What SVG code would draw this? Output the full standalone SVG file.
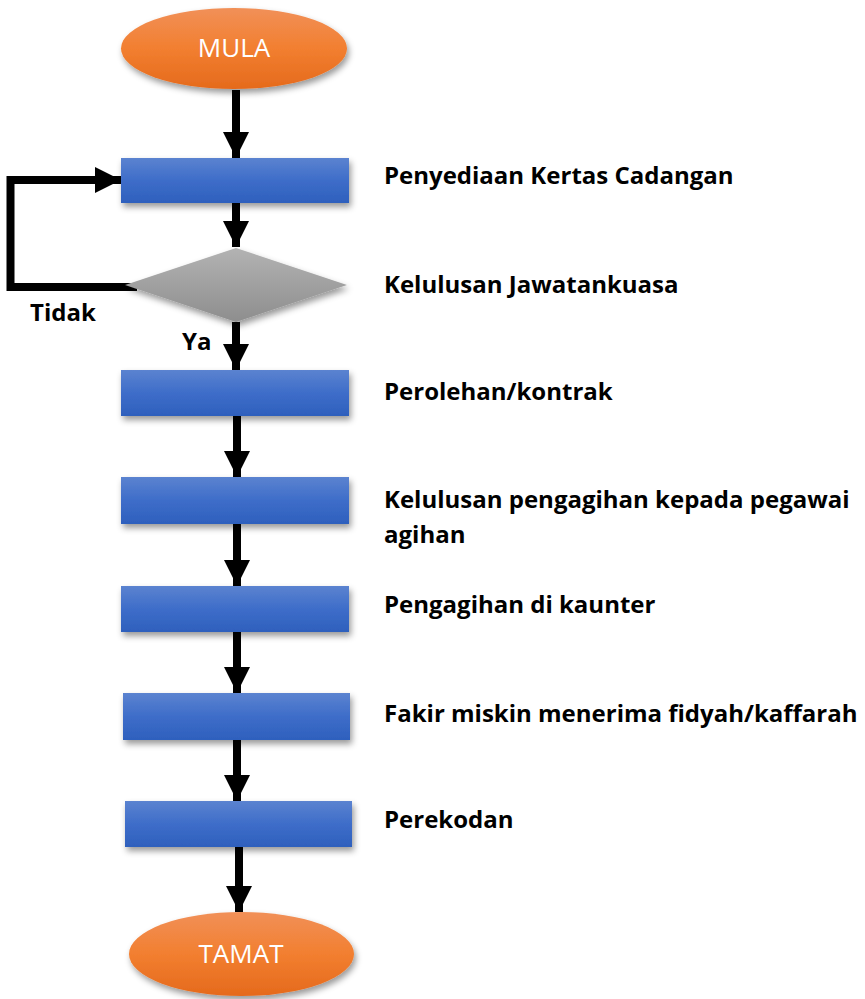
<svg xmlns="http://www.w3.org/2000/svg" width="865" height="999" viewBox="0 0 865 999">
  <defs>
    <linearGradient id="gBlue" x1="0" y1="0" x2="0" y2="1">
      <stop offset="0" stop-color="#5B83D0"/>
      <stop offset="0.5" stop-color="#3E6DC9"/>
      <stop offset="1" stop-color="#2E60BD"/>
    </linearGradient>
    <linearGradient id="gOrange" x1="0" y1="0" x2="0" y2="1">
      <stop offset="0" stop-color="#F19058"/>
      <stop offset="0.5" stop-color="#F27F30"/>
      <stop offset="1" stop-color="#E56A1C"/>
    </linearGradient>
    <linearGradient id="gGrey" x1="0" y1="0" x2="0" y2="1">
      <stop offset="0" stop-color="#B3B3B3"/>
      <stop offset="1" stop-color="#8E8E8E"/>
    </linearGradient>
    <filter id="shadow" x="-20%" y="-30%" width="140%" height="170%">
      <feDropShadow dx="2" dy="4" stdDeviation="3" flood-color="#000" flood-opacity="0.4"/>
    </filter>
    <marker id="arrow" markerUnits="userSpaceOnUse" markerWidth="26" markerHeight="26" viewBox="0 0 24 24" refX="24" refY="12" orient="auto">
      <path d="M0,0 L24,12 L0,24 Z" fill="#000"/>
    </marker>
  </defs>
  <style>
    .proc { fill: url(#gBlue); filter: url(#shadow); }
    .term { fill: url(#gOrange); filter: url(#shadow); }
    .dec { fill: url(#gGrey); filter: url(#shadow); }
    .conn { stroke: #000; stroke-width: 8; fill: none; marker-end: url(#arrow); }
    .tlabel { font-family: "Open Sans", "Liberation Sans", sans-serif; font-size: 26px; fill: #FFFFFF; text-anchor: middle; }
    .label { font-family: "Open Sans", "Liberation Sans", sans-serif; font-size: 24px; font-weight: bold; fill: #000; }
  </style>

  <g id="connectors">
    <line class="conn" x1="236" y1="90" x2="236" y2="158"/>
    <line class="conn" x1="236" y1="203" x2="236" y2="247"/>
    <polyline class="conn" points="137,287 10.5,287 10.5,180 121,180"/>
    <line class="conn" x1="236" y1="322" x2="236" y2="370"/>
    <line class="conn" x1="237" y1="416" x2="237" y2="477"/>
    <line class="conn" x1="237" y1="524" x2="237" y2="586"/>
    <line class="conn" x1="237" y1="632" x2="237" y2="693"/>
    <line class="conn" x1="237" y1="740" x2="237" y2="801"/>
    <line class="conn" x1="239" y1="847" x2="239" y2="912"/>
  </g>

  <g id="mula">
    <ellipse class="term" cx="234" cy="48.5" rx="113" ry="40.5"/>
    <text class="tlabel" x="234" y="57">MULA</text>
  </g>

  <g id="penyediaan">
    <rect class="proc" x="121" y="158" width="228" height="45"/>
    <text class="label" x="384" y="184">Penyediaan Kertas Cadangan</text>
  </g>

  <g id="kelulusan-jawatankuasa">
    <polygon class="dec" points="236,248 347,285 236,322 125,285"/>
    <text class="label" x="384" y="293">Kelulusan Jawatankuasa</text>
    <text class="label" x="30" y="321">Tidak</text>
    <text class="label" x="182" y="350">Ya</text>
  </g>

  <g id="perolehan">
    <rect class="proc" x="121" y="370" width="228" height="46"/>
    <text class="label" x="384" y="400">Perolehan/kontrak</text>
  </g>

  <g id="kelulusan-pengagihan">
    <rect class="proc" x="121" y="477" width="228" height="47"/>
    <text class="label" x="384" y="508">Kelulusan pengagihan kepada pegawai</text>
    <text class="label" x="384" y="543">agihan</text>
  </g>

  <g id="pengagihan-kaunter">
    <rect class="proc" x="121" y="586" width="228" height="46"/>
    <text class="label" x="384" y="613">Pengagihan di kaunter</text>
  </g>

  <g id="fakir-miskin">
    <rect class="proc" x="123" y="693" width="227" height="47"/>
    <text class="label" x="384" y="722">Fakir miskin menerima fidyah/kaffarah</text>
  </g>

  <g id="perekodan">
    <rect class="proc" x="125" y="801" width="227" height="46"/>
    <text class="label" x="384" y="828">Perekodan</text>
  </g>

  <g id="tamat">
    <ellipse class="term" cx="241.5" cy="954" rx="112.5" ry="42"/>
    <text class="tlabel" x="241" y="963">TAMAT</text>
  </g>
</svg>
